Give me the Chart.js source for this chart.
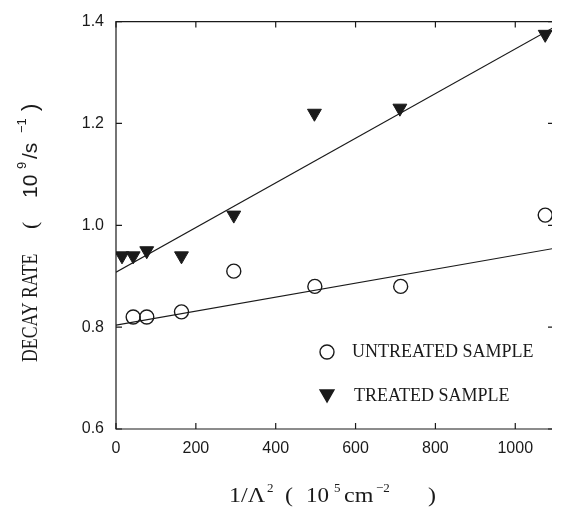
<!DOCTYPE html>
<html>
<head>
<meta charset="utf-8">
<script src="https://cdn.jsdelivr.net/npm/chart.js@4"></script>
<style>
  html, body { margin: 0; padding: 0; background: #fff; overflow: hidden; }
  canvas { display: block; }
</style>
</head>
<body>
<canvas id="decayChart" width="561" height="508" style="width:561px;height:508px"></canvas>
<script>
const xTicks = [0, 200, 400, 600, 800, 1000];
const yTicks = [0.6, 0.8, 1.0, 1.2, 1.4];

const untreatedX = [43, 77, 164, 295, 498, 713, 1075];
const untreatedY = [0.82, 0.82, 0.83, 0.91, 0.88, 0.88, 1.02];
const treatedX = [15, 43, 77, 164, 295, 497, 711, 1075];
const treatedY = [0.94, 0.94, 0.95, 0.94, 1.02, 1.22, 1.23, 1.375];

const fitX = [0, 1100];
const untreatedFit = [0.804, 0.955];
const treatedFit = [0.908, 1.39];

const legendLabels = ["UNTREATED SAMPLE", "TREATED SAMPLE"];

const ink = "#1a1a1a";
const SERIF = "'Liberation Serif', 'Times New Roman', serif";
const SANS = "'Liberation Sans', Arial, sans-serif";

const toPoints = (xs, ys) => xs.map((x, i) => ({ x: x, y: ys[i] }));

// draws a run of text pieces; each piece has its own font, offset along the baseline and rise
const drawPieces = (ctx, pieces) => {
  pieces.forEach((p) => {
    ctx.save();
    ctx.font = p.font;
    ctx.translate(p.at, -(p.rise || 0));
    if (p.sx) ctx.scale(p.sx, 1);
    ctx.fillText(p.text, 0, 0);
    ctx.restore();
  });
};

const framePlugin = {
  id: "frame",
  afterDraw(chart) {
    const { ctx, chartArea: a, scales } = chart;
    ctx.save();
    ctx.strokeStyle = ink;
    ctx.lineWidth = 1.2;

    // frame: the right edge of the box is cut off in the scan, only its ticks show
    ctx.beginPath();
    ctx.moveTo(a.right, a.top);
    ctx.lineTo(a.left, a.top);
    ctx.lineTo(a.left, a.bottom);
    ctx.lineTo(a.right, a.bottom);
    ctx.stroke();

    // inward tick marks
    const len = 6;
    ctx.beginPath();
    xTicks.forEach((v) => {
      const px = scales.x.getPixelForValue(v);
      ctx.moveTo(px, a.bottom);
      ctx.lineTo(px, a.bottom - len);
      ctx.moveTo(px, a.top);
      ctx.lineTo(px, a.top + len);
    });
    yTicks.forEach((v) => {
      const py = scales.y.getPixelForValue(v);
      ctx.moveTo(a.left, py);
      ctx.lineTo(a.left + len, py);
      ctx.moveTo(a.right, py);
      ctx.lineTo(a.right - 4, py);
    });
    ctx.stroke();

    // legend inside the plot
    const lx = a.left + 211;
    ctx.lineWidth = 1.4;
    ctx.fillStyle = "rgba(0,0,0,0)";
    Chart.helpers.drawPoint(ctx, { pointStyle: "circle", radius: 7, borderWidth: 1.4, rotation: 0 }, lx, 352);
    ctx.fillStyle = ink;
    Chart.helpers.drawPoint(ctx, { pointStyle: "triangle", radius: 8, borderWidth: 1, rotation: 180 }, lx, 394);
    ctx.font = "18px " + SERIF;
    ctx.textBaseline = "alphabetic";
    ctx.fillText(legendLabels[0], lx + 25, 357);
    ctx.fillText(legendLabels[1], lx + 27, 401);

    // x axis title: 1/Λ² ( 10⁵ cm⁻² )
    ctx.save();
    ctx.translate(0, 502);
    const big = "20px " + SERIF;
    const sup = "13px " + SERIF;
    drawPieces(ctx, [
      { text: "1/Λ", font: big, at: 229, sx: 1.2 },
      { text: "2", font: sup, at: 267, rise: 10 },
      { text: "(", font: big, at: 285, sx: 1.2 },
      { text: "10", font: big, at: 306, sx: 1.15 },
      { text: "5", font: sup, at: 334, rise: 10 },
      { text: "cm", font: big, at: 344, sx: 1.2 },
      { text: "−2", font: sup, at: 376, rise: 10 },
      { text: ")", font: big, at: 428, sx: 1.2 },
    ]);
    ctx.restore();

    // y axis title: DECAY RATE ( 10⁹/s⁻¹ )
    ctx.save();
    ctx.translate(37, 362);
    ctx.rotate(-Math.PI / 2);
    drawPieces(ctx, [
      { text: "DECAY RATE", font: "24px " + SERIF, at: 0, sx: 0.74 },
      { text: "(", font: "22px " + SERIF, at: 133 },
      { text: "10", font: "21px " + SANS, at: 164 },
      { text: "9", font: "13px " + SANS, at: 193, rise: 11 },
      { text: "/s", font: "21px " + SANS, at: 203 },
      { text: "−1", font: "13px " + SANS, at: 229, rise: 11 },
      { text: ")", font: "22px " + SANS, at: 251 },
    ]);
    ctx.restore();

    ctx.restore();
  },
};

const ctx = document.getElementById("decayChart").getContext("2d");

new Chart(ctx, {
  type: "scatter",
  data: {
    datasets: [
      {
        label: legendLabels[0],
        data: toPoints(untreatedX, untreatedY),
        pointStyle: "circle",
        pointRadius: 7,
        pointBorderWidth: 1.4,
        pointBorderColor: ink,
        pointBackgroundColor: "rgba(0,0,0,0)",
        showLine: false,
      },
      {
        label: legendLabels[1],
        data: toPoints(treatedX, treatedY),
        pointStyle: "triangle",
        pointRotation: 180,
        pointRadius: 8,
        pointBorderWidth: 1,
        pointBorderColor: ink,
        pointBackgroundColor: ink,
        showLine: false,
      },
      {
        label: "untreated fit",
        data: toPoints(fitX, untreatedFit),
        showLine: true,
        borderColor: ink,
        borderWidth: 1.1,
        pointRadius: 0,
      },
      {
        label: "treated fit",
        data: toPoints(fitX, treatedFit),
        showLine: true,
        borderColor: ink,
        borderWidth: 1.1,
        pointRadius: 0,
      },
    ],
  },
  options: {
    responsive: false,
    animation: false,
    layout: {
      padding: { left: 0, right: 0, top: 13, bottom: 0 },
    },
    plugins: {
      legend: { display: false },
      tooltip: { enabled: false },
    },
    scales: {
      x: {
        type: "linear",
        min: 0,
        // the scan is cropped just short of the axis end
        max: 1092,
        afterBuildTicks: (scale) => {
          scale.ticks = xTicks.map((v) => ({ value: v }));
        },
        afterFit: (scale) => {
          scale.height = 79;
        },
        grid: { display: false, drawTicks: false },
        border: { display: false },
        ticks: {
          padding: 10,
          color: ink,
          maxRotation: 0,
          font: { family: SANS, size: 16 },
          callback: (v) => String(v),
        },
      },
      y: {
        type: "linear",
        min: 0.6,
        max: 1.4,
        afterBuildTicks: (scale) => {
          scale.ticks = yTicks.map((v) => ({ value: v }));
        },
        afterFit: (scale) => {
          scale.width = 116;
        },
        grid: { display: false, drawTicks: false },
        border: { display: false },
        ticks: {
          padding: 12,
          color: ink,
          font: { family: SANS, size: 16 },
          callback: (v) => Number(v).toFixed(1),
        },
      },
    },
  },
  plugins: [framePlugin],
});
</script>
</body>
</html>
